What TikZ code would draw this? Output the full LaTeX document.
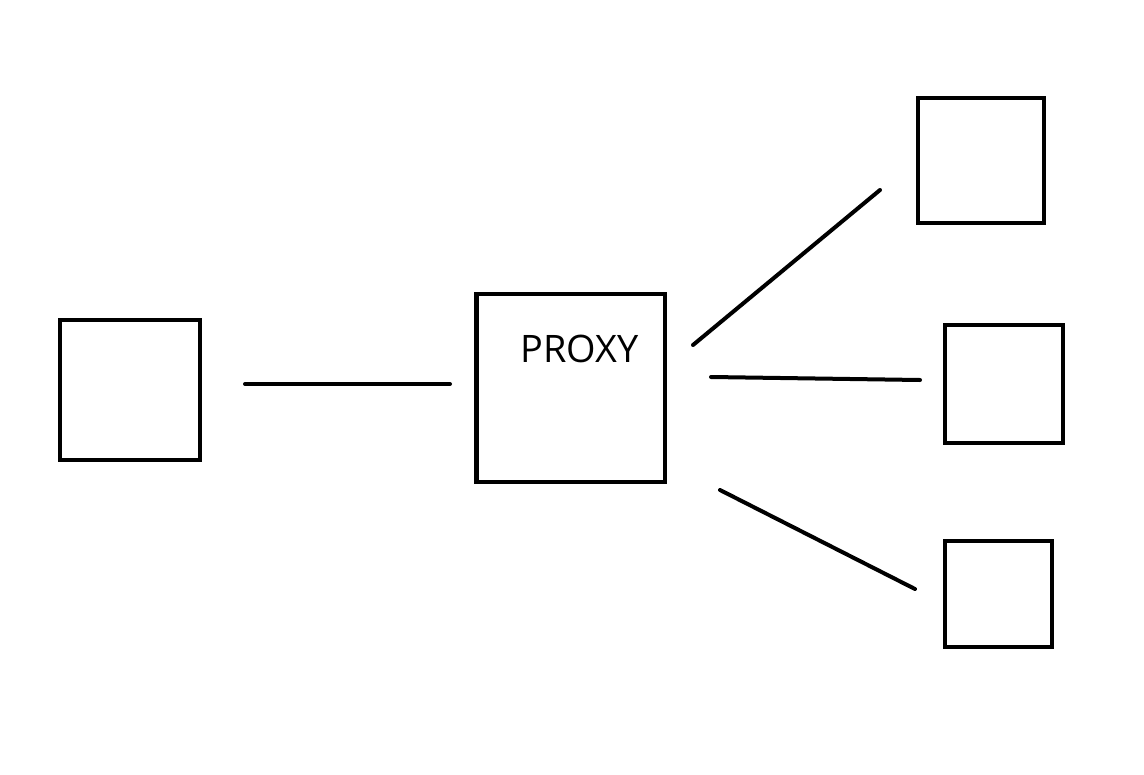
\documentclass[tikz,border=0pt]{standalone}
\usepackage{fontspec}
\newfontfamily\labelfont{Open Sans}
\begin{document}
\begin{tikzpicture}[x=0.75pt,y=-0.75pt,
  box/.style={draw=black,line width=3.6pt,inner sep=0pt,fill=none},
  link/.style={draw=black,line width=3pt,line cap=round}]
\useasboundingbox[fill=white] (0,0) rectangle (1144,774);
\draw[box] (60,320) rectangle (200,460);
\draw[box] (476.5,294) rectangle (665,482);
\draw[box] (918,98) rectangle (1044,223);
\draw[box] (945,325) rectangle (1063,443);
\draw[box] (945,541) rectangle (1052,647);
\node[inner sep=0pt,anchor=base west] (label) at (520,362) {\labelfont\fontsize{28.4pt}{34pt}\selectfont PROXY};
\coordinate (a1) at (245,384); \coordinate (a2) at (450,384);
\coordinate (b1) at (693,345); \coordinate (b2) at (880,190);
\coordinate (c1) at (711,377); \coordinate (c2) at (920,380);
\coordinate (d1) at (720,490); \coordinate (d2) at (915,589);
\draw[link] (a1) -- (a2);
\draw[link] (b1) -- (b2);
\draw[link] (c1) -- (c2);
\draw[link] (d1) -- (d2);
\end{tikzpicture}
\end{document}
